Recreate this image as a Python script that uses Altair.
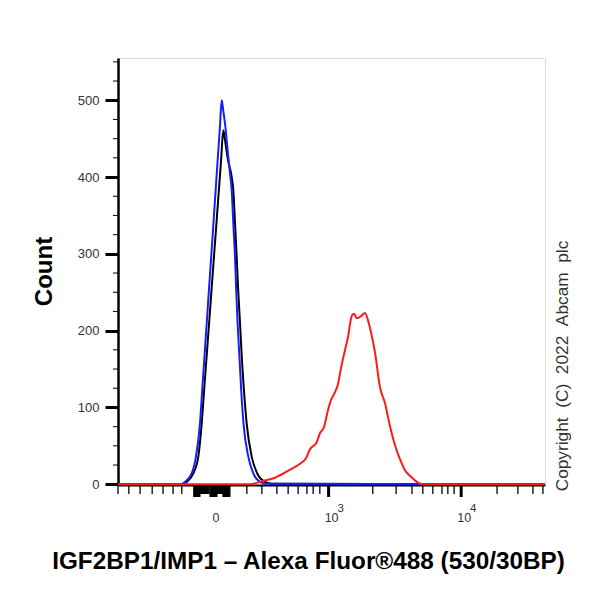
import altair as alt
import pandas as pd

# ---- data (display channel 0..1024 on a biexponential-like axis, counts) ----
blue_ch = [0, 150, 160.7, 176.7, 187, 196.6, 201.9, 207.4, 212.8, 218.1, 223.5, 228.9, 234.2, 239.5, 244.4, 248.7,
           252, 256.6, 264.5, 268.6, 272.7, 276.5, 280.6, 283.5, 286.8, 291.2, 295.5, 301, 312.5, 324.4, 340.5, 355, 1024]
blue_ct = [0, 0, 3, 14, 36, 79, 122, 166, 210, 253, 296, 340, 383, 426, 465, 500,
           488, 470, 426, 405, 383, 340, 296, 253, 210, 166, 122, 79, 36, 14, 3, 0.5, 0]

black_ch = [0, 155, 164.7, 180.6, 192.6, 200.7, 206.5, 212.5, 218.5, 224.3, 230.1, 236.1, 241.9, 247, 252.5,
            256.6, 263.8, 272.7, 276.5, 280.6, 284.6, 288.2, 292.6, 296.8, 302.1, 308.6, 320.6, 334, 352.5, 369, 1024]
black_ct = [0, 0, 3, 14, 36, 79, 122, 166, 210, 253, 296, 340, 383, 420, 461,
            448, 422, 400, 383, 340, 296, 253, 210, 166, 122, 79, 36, 14, 3, 0.6, 0]

red_ch = [0, 316.5, 345.3, 376.5, 412.5, 436.5, 450.9, 460.5, 476.5, 484.3, 493.9, 503.5, 510.7, 520.4, 527.5,
          534.7, 544.3, 551.5, 560.4, 565.9, 573.1, 582.7, 592.3, 599.5, 606.7, 616.3, 628.3, 640.3, 652.3,
          664.3, 676.2, 688.2, 704.3, 719.4, 729, 1024]
red_ct = [0, 0, 3.9, 8.5, 18.9, 26.7, 33.9, 45.6, 54.7, 66.4, 74.2, 96.4, 109.4, 119.8, 130.2,
          151, 174.5, 191.4, 218.8, 222, 216.1, 218.8, 223, 213.5, 197.9, 171.9, 126.3, 105.5, 75.5,
          50.8, 32.6, 18.2, 9.1, 2, 0, 0]

x_major = [235, 505, 823]
x_minor = [0, 26, 53, 82, 108, 132, 153, 309, 345, 381, 408, 432, 453, 468, 484,
           611, 667, 705, 731, 755, 777, 791, 806, 909, 959, 995, 1019]
x_dense_tall = [182, 184, 186, 188, 190, 192, 194, 196, 221, 223, 225, 227, 229, 231, 233,
                252, 254, 256, 258, 260, 262, 264, 266, 268]
x_dense_short = [198, 200, 202, 204, 206, 208, 210, 212, 214, 216, 218, 236, 238, 240, 242, 244, 246, 248, 250]

y_major = [0, 100, 200, 300, 400, 500]
y_minor = [25, 50, 75, 125, 150, 175, 225, 250, 275, 325, 350, 375, 425, 450, 475, 525, 550]

lab_zero = ["0"]
lab_zero_ch = [235]
lab_pow_ch = [505, 823]
lab_pow_base = ["10", "10"]
lab_pow_exp = ["3", "4"]

x_title = "IGF2BP1/IMP1 \u2013 Alexa Fluor\u00ae488 (530/30BP)"
y_title = "Count"
SP = "\u00a0\u00a0"
copyright_text = SP.join(["Copyright", "(C)", "2022", "Abcam", "plc"])

W, H = 427, 427
FONT = "Liberation Sans"

xs = alt.Scale(domain=[0, 1024], nice=False, zero=False)
ys = alt.Scale(domain=[-1, 555], nice=False, zero=False)

X_AX = alt.Axis(title=x_title, ticks=False, labels=False, grid=False,
                domainColor="black", domainWidth=2,
                titleFontSize=24.3, titleFont=FONT, titleFontWeight="bold", titleColor="black",
                titleX=190, titleY=76, titleBaseline="middle")
Y_AX = alt.Axis(title=y_title, values=y_major, grid=False,
                tickSize=13, tickWidth=3, tickColor="black",
                domainColor="black", domainWidth=2.5,
                labelFontSize=13, labelFont=FONT, labelColor="#333", labelPadding=6,
                titleFontSize=24, titleFont=FONT, titleFontWeight="bold", titleColor="black",
                titleX=-74, titleY=213, titleBaseline="middle")

def X():
    return alt.X("ch:Q", scale=xs, axis=X_AX)

def Y():
    return alt.Y("count:Q", scale=ys, axis=Y_AX)

def curve(ch, ct, color):
    df = pd.DataFrame({"ch": ch, "count": ct})
    return alt.Chart(df).mark_line(color=color, strokeWidth=2, interpolate="monotone").encode(x=X(), y=Y())

def xticks(vals, length, width):
    df = pd.DataFrame({"ch": vals})
    return alt.Chart(df).mark_rule(color="black", strokeWidth=width).encode(
        x=X(), y=alt.value(H + 1), y2=alt.value(H + 1 + length))

yminor = alt.Chart(pd.DataFrame({"count": y_minor})).mark_rule(color="black", strokeWidth=1).encode(
    y=Y(), x=alt.value(-5), x2=alt.value(0))

lab0 = alt.Chart(pd.DataFrame({"ch": lab_zero_ch, "t": lab_zero})).mark_text(
    font=FONT, fontSize=12.5, color="#333", align="center", baseline="middle").encode(
    x=X(), y=alt.value(H + 33), text="t:N")

labp = alt.Chart(pd.DataFrame({"ch": lab_pow_ch, "t": lab_pow_base})).mark_text(
    font=FONT, fontSize=12.5, color="#333", align="center", baseline="middle", dx=3).encode(
    x=X(), y=alt.value(H + 33), text="t:N")

labe = alt.Chart(pd.DataFrame({"ch": lab_pow_ch, "t": lab_pow_exp})).mark_text(
    font=FONT, fontSize=11.5, color="#333", align="center", baseline="middle", dx=12).encode(
    x=X(), y=alt.value(H + 24), text="t:N")

copy = alt.Chart(pd.DataFrame({"t": [copyright_text]})).mark_text(
    font=FONT, fontSize=17.3, color="#333", angle=270, align="center", baseline="middle").encode(
    x=alt.value(445), y=alt.value(308), text="t:N")

chart = alt.layer(
    curve(black_ch, black_ct, "black"),
    curve(blue_ch, blue_ct, "#1a1aff"),
    curve(red_ch, red_ct, "#ff1a1a"),
    xticks(x_minor, 8, 1.3),
    xticks(x_dense_short, 8, 1.5),
    xticks(x_dense_tall, 11, 1.5),
    xticks(x_major, 11, 3),
    yminor, lab0, labp, labe, copy,
).properties(
    width=W, height=H,
    padding={"left": 110, "top": 50, "right": 47, "bottom": 107},
    autosize=alt.AutoSizeParams(type="none"),
).configure_view(stroke="black", strokeWidth=1).configure(background="white")

chart.save("out.html", embed_options={"renderer": "svg", "actions": False})
